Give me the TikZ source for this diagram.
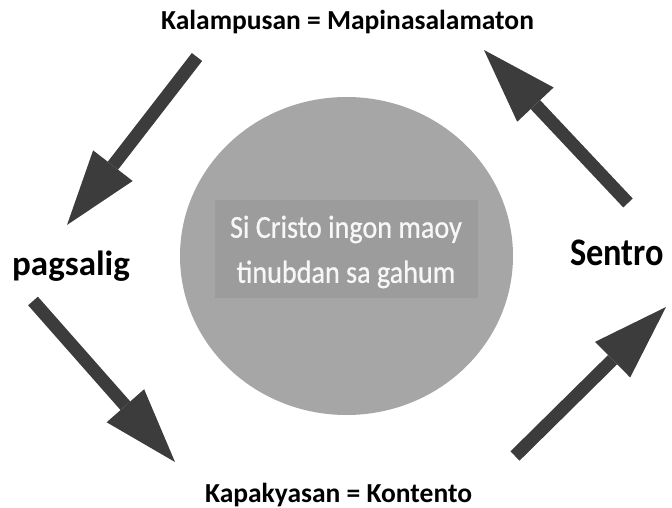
\documentclass[tikz,border=0pt]{standalone}
\usepackage{fontspec}
\setmainfont{Carlito}
\newfontfamily\narrowfont[FakeStretch=0.88]{Carlito}
\newfontfamily\hubfont[FakeStretch=0.88,FakeBold=0.7]{Carlito}
\usetikzlibrary{arrows.meta,shapes.geometric}
\definecolor{hubgray}{HTML}{A6A6A6}
\definecolor{boxgray}{HTML}{9C9C9C}
\definecolor{arrowgray}{HTML}{3C3C3C}
\definecolor{msgwhite}{HTML}{F7F7F7}

\begin{document}
\begin{tikzpicture}[x=1pt,y=-1pt,
  flow/.style={color=arrowgray,line width=13pt,-{Triangle[length=75pt,width=50pt,line width=0pt]}},
  word/.style={inner sep=0pt,font=\bfseries\fontsize{27.5}{33}\selectfont},
  bigword/.style={inner sep=0pt,anchor=base west,font=\bfseries\fontsize{35}{42}\selectfont}]
\useasboundingbox (0,0) rectangle (672,508);

\node[ellipse,fill=hubgray,minimum width=333pt,minimum height=318pt] (hub) at (346.5,256) {};
\node[fill=boxgray,minimum width=263pt,minimum height=98pt] (msgbox) at (346.5,249) {};
\node[inner sep=0pt,text=msgwhite,align=center,font=\hubfont\fontsize{32}{45}\selectfont]
  (msg) at (346,252) {Si Cristo ingon maoy\\tinubdan sa gahum};

\node[word,anchor=base] (top) at (347.5,30) {Kalampusan = Mapinasalamaton};
\node[word,anchor=base] (bottom) at (338.5,502) {Kapakyasan = Kontento};
\node[bigword] (left) at (12,275) {pagsalig};
\node[bigword,font=\bfseries\narrowfont\fontsize{39}{46}\selectfont] (right) at (570,265) {Sentro};

\coordinate (t1) at (197,57);  \coordinate (h1) at (67,225);
\coordinate (t2) at (33,301);  \coordinate (h2) at (175,462);
\coordinate (t3) at (515,456); \coordinate (h3) at (666,307);
\coordinate (t4) at (628,203); \coordinate (h4) at (484,50);
\draw[flow] (t1) -- (h1);
\draw[flow] (t2) -- (h2);
\draw[flow] (t3) -- (h3);
\draw[flow] (t4) -- (h4);
\end{tikzpicture}
\end{document}
